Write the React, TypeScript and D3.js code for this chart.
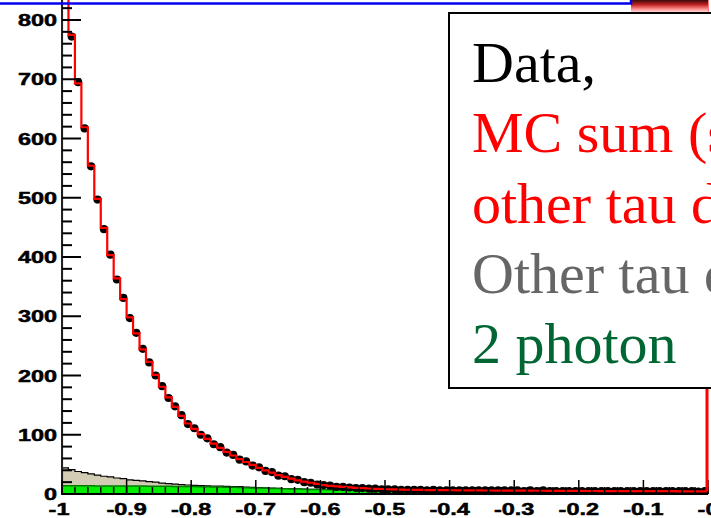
import React from "react";
import * as d3 from "d3";

// ---------- data (100 bins of width 0.01 from -1 to 0) ----------
const xMin = -1;
const binWidth = 0.01;

const mcSum = [
  870, 775, 693, 619, 554, 498, 449, 403, 364, 329,
  298, 271, 244, 223, 201, 181, 163, 147, 132, 119,
  110, 101, 93, 85, 78, 71, 65, 59, 54, 49,
  44, 40, 36, 32, 29, 26, 23, 21, 19, 17,
  15, 13.8, 12.8, 11.9, 11.1, 10.4, 9.8, 9.3, 8.8, 8.4,
  8.0, 7.7, 7.4, 7.2, 7.0, 6.8, 6.7, 6.6, 6.5, 6.4,
  6.3, 6.2, 6.1, 6.0, 6.0, 5.9, 5.9, 5.8, 5.8, 5.7,
  5.7, 5.6, 5.6, 5.5, 5.5, 5.4, 5.4, 5.3, 5.3, 5.2,
  5.2, 5.1, 5.1, 5.0, 5.0, 5.0, 4.9, 4.9, 4.9, 4.8,
  4.8, 4.8, 4.7, 4.7, 4.7, 4.6, 4.6, 4.6, 4.5, 4.5,
];

const dataPoints = [
  866, 772, 695, 617, 553, 497, 447, 404, 362, 331,
  297, 272, 245, 222, 200, 182, 162, 148, 133, 118,
  111, 100, 94, 84, 79, 70, 66, 58, 55, 48,
  45, 39, 37, 31, 30, 25, 24, 20, 19, 16,
  15, 14, 12, 12, 11, 10, 10, 9, 9, 8,
  8, 8, 7, 7, 7, 7, 6, 7, 6, 6,
  6, 6, 6, 6, 6, 6, 6, 6, 6, 6,
  6, 5, 6, 5, 6, 5, 5, 5, 5, 5,
  5, 5, 5, 5, 5, 5, 5, 5, 5, 5,
  5, 5, 5, 5, 5, 5, 5, 5, 4, 5,
];

const otherTau = [
  44, 41, 38, 36, 34, 32, 30, 29, 27, 26,
  24, 23, 22, 21, 20, 18.5, 17.5, 16.5, 15.8, 15.2,
  14.7, 14.2, 13.8, 13.5, 13.2, 12.9, 12.6, 12.3, 11.8, 11.2,
  10.7, 10.3, 9.9, 9.5, 9.2, 8.9, 8.6, 8.3, 8.0, 7.8,
  7.6, 7.4, 7.2, 7.0, 6.9, 6.8, 6.7, 6.6, 6.5, 6.4,
  6.3, 6.2, 6.1, 6.0, 6.0, 5.9, 5.9, 5.8, 5.8, 5.7,
  5.7, 5.6, 5.6, 5.5, 5.5, 5.4, 5.4, 5.3, 5.3, 5.2,
  5.2, 5.1, 5.1, 5.0, 5.0, 4.9, 4.9, 4.9, 4.8, 4.8,
  4.7, 4.7, 4.7, 4.6, 4.6, 4.6, 4.5, 4.5, 4.5, 4.4,
  4.4, 4.4, 4.3, 4.3, 4.3, 4.2, 4.2, 4.2, 4.1, 4.1,
];

const twoPhoton = [
  14, 14, 13.9, 13.8, 13.8, 13.7, 13.7, 13.6, 13.6, 13.5,
  13.5, 13.4, 13.3, 13.2, 13.1, 13.0, 12.9, 12.8, 12.7, 12.6,
  12.5, 12.3, 12.1, 11.9, 11.7, 11.5, 11.3, 11.0, 10.6, 10.3,
  10.0, 9.7, 9.4, 9.1, 8.8, 8.5, 8.3, 8.0, 7.8, 7.6,
  7.4, 7.2, 7.0, 6.8, 6.7, 6.6, 6.5, 6.4, 6.3, 6.2,
  6.0, 5.9, 5.9, 5.8, 5.8, 5.7, 5.7, 5.6, 5.6, 5.5,
  5.5, 5.4, 5.4, 5.3, 5.3, 5.2, 5.2, 5.1, 5.1, 5.0,
  5.0, 4.9, 4.9, 4.8, 4.8, 4.7, 4.7, 4.7, 4.6, 4.6,
  4.5, 4.5, 4.5, 4.4, 4.4, 4.4, 4.3, 4.3, 4.3, 4.2,
  4.2, 4.2, 4.1, 4.1, 4.1, 4.0, 4.0, 4.0, 3.9, 3.9,
];

const yTickValues = [0, 100, 200, 300, 400, 500, 600, 700, 800];
const yTickLabels = ["0", "100", "200", "300", "400", "500", "600", "700", "800"];
const xTickValues = [-1, -0.9, -0.8, -0.7, -0.6, -0.5, -0.4, -0.3, -0.2, -0.1, 0];
const xTickLabels = ["-1", "-0.9", "-0.8", "-0.7", "-0.6", "-0.5", "-0.4", "-0.3", "-0.2", "-0.1", "-0"];

const legendLines = [
  { text: "Data,", color: "#000000" },
  { text: "MC sum (signal +", color: "#ff0000" },
  { text: "other tau decays)", color: "#ff0000" },
  { text: "Other tau decays", color: "#666666" },
  { text: "2 photon", color: "#006633" },
];

export default function App() {
  const W = 711;
  const H = 518;
  const x = d3.scaleLinear().domain([-1, 0]).range([62, 708]);
  const y = d3.scaleLinear().domain([0, 800]).range([494, 20]);

  const edges = d3.range(mcSum.length + 1).map((i) => xMin + i * binWidth);
  const stepPts = (vals: number[]) => {
    const pts: [number, number][] = vals.map((v, i) => [edges[i], v]);
    pts.push([edges[vals.length], vals[vals.length - 1]]);
    return pts;
  };

  const area = d3
    .area<[number, number]>()
    .x((d) => x(d[0]))
    .y0(y(0))
    .y1((d) => y(d[1]))
    .curve(d3.curveStepAfter);

  const redLine = d3
    .line<[number, number]>()
    .x((d) => x(d[0]))
    .y((d) => y(d[1]))
    .curve(d3.curveStepAfter);
  const redPts: [number, number][] = [[edges[0], 0], ...stepPts(mcSum)];

  const yMinor = d3.range(0, 830, 20).filter((v) => v % 100 !== 0);
  const xMinor = d3.range(0, 51).map((i) => -1 + i * 0.02);

  const labelStretch = 1.38;
  const labelProps = {
    fontFamily: "Liberation Sans, Arial, sans-serif",
    fontWeight: "bold" as const,
    fontSize: 17,
    fill: "#000",
    stroke: "#000",
    strokeWidth: 0.5,
  };

  return (
    <svg
      width={W}
      height={H}
      style={{ position: "absolute", left: 0, top: 0, background: "#fff" }}
    >
      <defs>
        <linearGradient id="topbar" x1="0" y1="0" x2="0" y2="1">
          <stop offset="0%" stopColor="#3a0a0a" />
          <stop offset="35%" stopColor="#c02020" />
          <stop offset="70%" stopColor="#ff9090" />
          <stop offset="100%" stopColor="#fff0f0" />
        </linearGradient>
        <clipPath id="plotclip">
          <rect x={62} y={0} width={646} height={495} />
        </clipPath>
      </defs>
      <rect x={0} y={0} width={W} height={H} fill="#fff" />

      <g clipPath="url(#plotclip)">
        <path d={area(stepPts(otherTau)) || ""} fill="#d3cdb5" stroke="#000" strokeWidth={1.2} />
        <path d={area(stepPts(twoPhoton)) || ""} fill="#00ee00" stroke="#007a00" strokeWidth={1.5} />
        {dataPoints.map((v, i) => (
          <circle
            key={i}
            cx={x(edges[i] + binWidth / 2)}
            cy={y(v)}
            r={4.1}
            fill="#000"
          />
        ))}
        <path d={redLine(redPts) || ""} fill="none" stroke="#ff0000" strokeWidth={2.2} />
      </g>

      {/* axes */}
      <line x1={62} y1={0} x2={62} y2={495} stroke="#222" strokeWidth={2} />
      <line x1={61} y1={494} x2={708} y2={494} stroke="#000" strokeWidth={2} />
      {yTickValues.map((v, i) => (
        <g key={"yt" + i}>
          <line x1={62} x2={81} y1={y(v)} y2={y(v)} stroke="#000" strokeWidth={2} />
          <text
            transform={`translate(57,${y(v) + 6}) scale(${labelStretch},1)`}
            textAnchor="end"
            {...labelProps}
          >
            {yTickLabels[i]}
          </text>
        </g>
      ))}
      {yMinor.map((v) => (
        <line key={"ym" + v} x1={62} x2={72} y1={y(v)} y2={y(v)} stroke="#000" strokeWidth={2} />
      ))}
      {xMinor.map((v, i) => (
        <line key={"xm" + i} x1={x(v)} x2={x(v)} y1={494} y2={487} stroke="#000" strokeWidth={1.5} />
      ))}
      {xTickValues.map((v, i) => (
        <g key={"xt" + i}>
          <line x1={x(v)} x2={x(v)} y1={494} y2={480} stroke="#000" strokeWidth={1.5} />
          <text
            transform={`translate(${x(v) - (i === 0 ? 3 : 0)},515) scale(${labelStretch},1)`}
            textAnchor="middle"
            {...labelProps}
          >
            {xTickLabels[i]}
          </text>
        </g>
      ))}

      {/* right frame line */}
      <line x1={707} x2={707} y1={0} y2={491} stroke="#ff0000" strokeWidth={3} />

      {/* top decorations */}
      <rect x={631} y={0} width={77} height={13} fill="url(#topbar)" />
      <path d="M0,3.5 H631 V0" fill="none" stroke="#0000ee" strokeWidth={2.5} />

      {/* legend */}
      <rect x={449} y={13} width={300} height={375} fill="#fff" stroke="#000" strokeWidth={2} />
      {legendLines.map((l, i) => (
        <text
          key={"lg" + i}
          x={472}
          y={82 + i * 70.3}
          fontFamily="Liberation Serif, Times New Roman, serif"
          fontSize={58}
          fill={l.color}
        >
          {l.text}
        </text>
      ))}
    </svg>
  );
}
